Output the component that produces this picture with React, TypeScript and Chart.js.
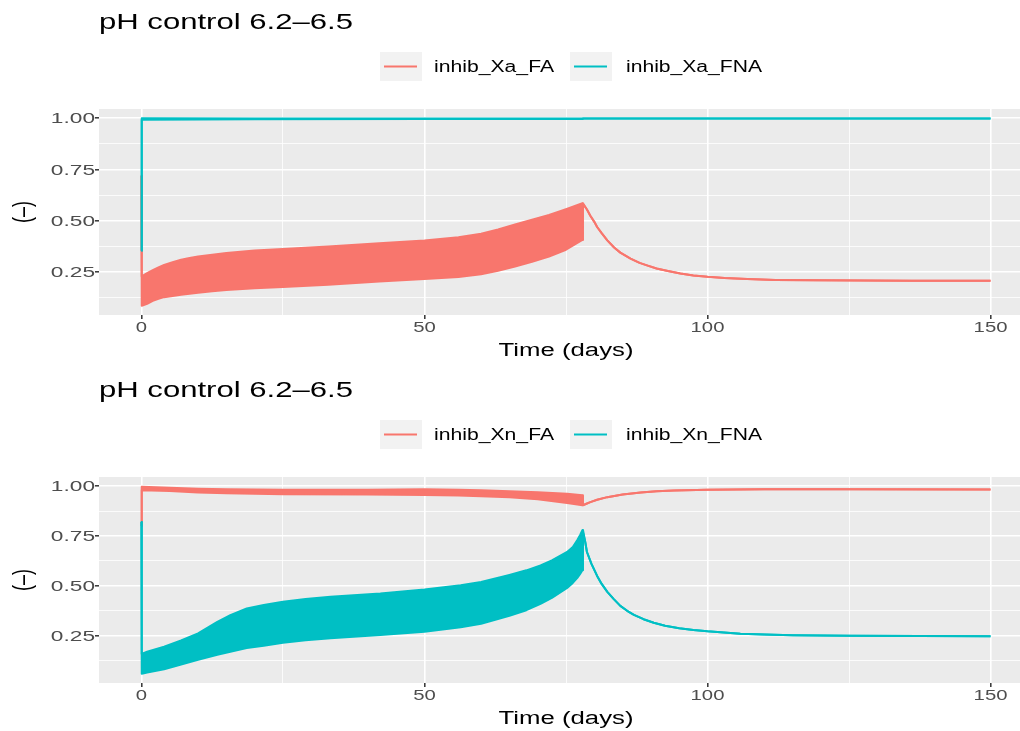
import React, { useEffect, useRef } from "react";
import { Chart, registerables } from "chart.js";
Chart.register(...registerables);

// ---------- text ----------
const TITLE = "pH control 6.2–6.5";
const X_TITLE = "Time (days)";
const Y_TITLE = "(–)";
const LEGEND_A = ["inhib_Xa_FA", "inhib_Xa_FNA"];
const LEGEND_N = ["inhib_Xn_FA", "inhib_Xn_FNA"];
const COLORS = ["#F8766D", "#00BFC4"];

// ---------- ticks ----------
const X_TICKS = [0, 25, 50, 75, 100, 125, 150];
const X_LABELED = [0, 50, 100, 150];
const Y_TICKS = [0.125, 0.25, 0.375, 0.5, 0.625, 0.75, 0.875, 1.0];
const Y_LABELED = [0.25, 0.5, 0.75, 1.0];
const Y_LABELS = ["0.25", "0.50", "0.75", "1.00"];

// ---------- panel 1: inhib_Xa_FA (upper / lower envelope of the oscillation) ----------
const XA_FA_T = [0, 0.05, 1, 2, 3, 4, 5.5, 7, 8.5, 10, 12.5, 15, 20, 25, 33, 42, 50, 56, 60, 63, 66, 69, 72, 75, 77.9, 78.0, 78.7, 79.3, 80, 80.5, 81.3, 82.3, 83.5, 84.6, 86.4, 88, 89.3, 91, 93, 95.2, 97.5, 100, 103, 107, 112, 119, 136, 150];
const XA_FA_HI = [0.72, 0.229, 0.245, 0.26, 0.273, 0.285, 0.298, 0.31, 0.319, 0.326, 0.335, 0.343, 0.355, 0.363, 0.375, 0.391, 0.404, 0.42, 0.437, 0.458, 0.482, 0.505, 0.529, 0.557, 0.586, 0.586, 0.555, 0.525, 0.495, 0.47, 0.44, 0.405, 0.37, 0.345, 0.316, 0.295, 0.283, 0.268, 0.255, 0.243, 0.234, 0.227, 0.221, 0.216, 0.212, 0.21, 0.208, 0.208];
const XA_FA_LO = [0.72, 0.086, 0.095, 0.11, 0.12, 0.128, 0.134, 0.14, 0.145, 0.15, 0.157, 0.163, 0.171, 0.177, 0.188, 0.204, 0.216, 0.226, 0.24, 0.257, 0.277, 0.3, 0.326, 0.359, 0.407, 0.586, 0.555, 0.525, 0.495, 0.47, 0.44, 0.405, 0.37, 0.345, 0.316, 0.295, 0.283, 0.268, 0.255, 0.243, 0.234, 0.227, 0.221, 0.216, 0.212, 0.21, 0.208, 0.208];

// ---------- panel 1: inhib_Xa_FNA ----------
const XA_FNA_T = [0, 0.05, 20, 50, 77.9, 78.0, 150];
const XA_FNA_HI = [0.354, 1.0, 0.999, 0.999, 0.999, 0.999, 0.999];
const XA_FNA_LO = [0.354, 0.993, 0.995, 0.996, 0.996, 0.999, 0.999];

// ---------- panel 2: inhib_Xn_FA ----------
const XN_FA_T = [0, 0.05, 5, 10, 15, 25, 40, 50, 56, 60, 65, 70, 75.2, 77.9, 78.0, 78.6, 79.3, 80.5, 82.3, 85, 88.2, 91, 94.1, 100, 110, 125, 150];
const XN_FA_HI = [0.8, 0.997, 0.992, 0.987, 0.985, 0.982, 0.982, 0.984, 0.982, 0.979, 0.975, 0.97, 0.962, 0.954, 0.904, 0.912, 0.92, 0.932, 0.945, 0.958, 0.968, 0.974, 0.978, 0.982, 0.984, 0.984, 0.983];
const XN_FA_LO = [0.8, 0.98, 0.976, 0.968, 0.964, 0.96, 0.958, 0.956, 0.953, 0.95, 0.945, 0.935, 0.915, 0.904, 0.904, 0.912, 0.92, 0.932, 0.945, 0.958, 0.968, 0.974, 0.978, 0.982, 0.984, 0.984, 0.983];

// ---------- panel 2: inhib_Xn_FNA ----------
const XN_FNA_T = [0, 0.05, 1, 4, 7, 10, 13.4, 15.7, 18.6, 21.6, 25, 29, 33.4, 42.2, 50, 56.4, 60, 65, 68, 70.5, 72.5, 75.2, 76.2, 77, 77.5, 77.9, 78.0, 78.4, 78.7, 79.5, 80.5, 81.3, 82.3, 83.4, 84.6, 85.8, 87, 88.7, 90.5, 92.5, 95, 97.5, 100, 105.8, 110, 115, 125, 150];
const XN_FNA_HI = [0.82, 0.159, 0.17, 0.195, 0.226, 0.262, 0.32, 0.353, 0.387, 0.404, 0.42, 0.434, 0.445, 0.462, 0.482, 0.503, 0.52, 0.555, 0.578, 0.603, 0.628, 0.67, 0.695, 0.73, 0.755, 0.78, 0.78, 0.72, 0.67, 0.61, 0.55, 0.51, 0.47, 0.435, 0.4, 0.375, 0.355, 0.333, 0.315, 0.3, 0.288, 0.279, 0.272, 0.26, 0.256, 0.253, 0.25, 0.248];
const XN_FNA_LO = [0.82, 0.059, 0.065, 0.082, 0.106, 0.129, 0.155, 0.17, 0.188, 0.2, 0.215, 0.227, 0.237, 0.254, 0.27, 0.292, 0.31, 0.35, 0.378, 0.41, 0.44, 0.49, 0.515, 0.54, 0.56, 0.578, 0.78, 0.72, 0.67, 0.61, 0.55, 0.51, 0.47, 0.435, 0.4, 0.375, 0.355, 0.333, 0.315, 0.3, 0.288, 0.279, 0.272, 0.26, 0.256, 0.253, 0.25, 0.248];

const FONT = '"Liberation Sans", Arial, Helvetica, sans-serif';

function band(T: number[], HI: number[], LO: number[], color: string, order: number) {
  const common = {
    borderColor: color,
    backgroundColor: color,
    borderWidth: 2,
    pointRadius: 0,
    tension: 0,
    order,
    borderJoinStyle: "round" as const,
  };
  return [
    { ...common, data: T.map((t, i) => ({ x: t, y: HI[i] })), fill: "+1" },
    { ...common, data: T.map((t, i) => ({ x: t, y: LO[i] })), fill: false },
  ];
}

function drawText(
  ctx: CanvasRenderingContext2D,
  s: string,
  x: number,
  y: number,
  size: number,
  color: string,
  align: CanvasTextAlign,
  sx: number,
  target?: number
) {
  ctx.save();
  ctx.font = `${size}px ${FONT}`;
  ctx.fillStyle = color;
  ctx.textBaseline = "alphabetic";
  ctx.textAlign = align;
  let k = sx;
  if (target) k = target / ctx.measureText(s).width;
  ctx.translate(x, y);
  ctx.scale(k, 1);
  ctx.fillText(s, 0, 0);
  ctx.restore();
}

function makeDecor(legend: string[]) {
  return {
    id: "decor",
    beforeDraw(chart: any) {
      const { ctx, chartArea: a } = chart;
      ctx.save();
      ctx.fillStyle = "#EBEBEB";
      ctx.fillRect(a.left, a.top, a.right - a.left, a.bottom - a.top);
      ctx.restore();
    },
    afterDraw(chart: any) {
      const ctx: CanvasRenderingContext2D = chart.ctx;
      const xs = chart.scales.x;
      const ys = chart.scales.y;
      drawText(ctx, TITLE, 99, 29, 22, "#000000", "left", 1, 254);
      const boxes = [
        { bx: 380, tx: 434, tw: 120 },
        { bx: 570, tx: 626, tw: 136 },
      ];
      boxes.forEach((b, i) => {
        ctx.save();
        ctx.fillStyle = "#F2F2F2";
        ctx.fillRect(b.bx, 52, 42, 29);
        ctx.strokeStyle = COLORS[i];
        ctx.lineWidth = 2;
        ctx.beginPath();
        ctx.moveTo(b.bx + 4, 66.5);
        ctx.lineTo(b.bx + 37, 66.5);
        ctx.stroke();
        ctx.restore();
        drawText(ctx, legend[i], b.tx, 72, 16, "#000000", "left", 1, b.tw);
      });
      Y_LABELED.forEach((v, i) => {
        const py = ys.getPixelForValue(v);
        drawText(ctx, Y_LABELS[i], 95, py + 5, 14, "#4D4D4D", "right", 1.62);
      });
      X_LABELED.forEach((v) => {
        const px = xs.getPixelForValue(v);
        drawText(ctx, String(v), px, 332, 14, "#4D4D4D", "center", 1.45);
      });
      drawText(ctx, X_TITLE, 566, 356, 18, "#000000", "center", 1.43);
      ctx.save();
      ctx.translate(24, (chart.chartArea.top + chart.chartArea.bottom) / 2);
      ctx.rotate(-Math.PI / 2);
      ctx.scale(1, 1.43);
      ctx.font = `18px ${FONT}`;
      ctx.fillStyle = "#000000";
      ctx.textAlign = "center";
      ctx.textBaseline = "middle";
      ctx.fillText(Y_TITLE, 0, 0);
      ctx.restore();
    },
  };
}

const isMajorX = (v: number) => v % 50 === 0;
const isMajorY = (v: number) => Math.abs(v / 0.25 - Math.round(v / 0.25)) < 1e-6;

function Panel(props: {
  top: number;
  height: number;
  datasets: any[];
  legend: string[];
  yMin: number;
  yMax: number;
}) {
  const ref = useRef<HTMLCanvasElement>(null);
  useEffect(() => {
    const { height } = props;
    const chart = new Chart(ref.current as HTMLCanvasElement, {
      type: "line",
      data: { datasets: props.datasets },
      options: {
        animation: false,
        responsive: false,
        maintainAspectRatio: false,
        devicePixelRatio: 1,
        layout: { padding: { top: 109, right: 7, left: 0, bottom: 0 } },
        plugins: {
          legend: { display: false },
          tooltip: { enabled: false },
          title: { display: false },
        },
        scales: {
          x: {
            type: "linear",
            min: -7.5,
            max: 157.5,
            afterBuildTicks: (s: any) => {
              s.ticks = X_TICKS.map((v) => ({ value: v }));
            },
            afterFit: (s: any) => {
              s.height = height - 315;
            },
            ticks: { display: false },
            border: { display: false },
            grid: {
              color: "#FFFFFF",
              lineWidth: (c: any) => (c.tick && isMajorX(c.tick.value) ? 1.6 : 0.8),
              drawTicks: true,
              tickLength: 4,
              tickWidth: 1.5,
              tickColor: (c: any) => (c.tick && isMajorX(c.tick.value) ? "#333333" : "rgba(0,0,0,0)"),
            },
          },
          y: {
            type: "linear",
            min: props.yMin,
            max: props.yMax,
            afterBuildTicks: (s: any) => {
              s.ticks = Y_TICKS.map((v) => ({ value: v }));
            },
            afterFit: (s: any) => {
              s.width = 99;
            },
            ticks: { display: false },
            border: { display: false },
            grid: {
              color: "#FFFFFF",
              lineWidth: (c: any) => (c.tick && isMajorY(c.tick.value) ? 1.6 : 0.8),
              drawTicks: true,
              tickLength: 4,
              tickWidth: 1.5,
              tickColor: (c: any) => (c.tick && isMajorY(c.tick.value) ? "#333333" : "rgba(0,0,0,0)"),
            },
          },
        },
      } as any,
      plugins: [makeDecor(props.legend)],
    });
    return () => chart.destroy();
  }, []);
  return (
    <canvas
      ref={ref}
      width={1040}
      height={props.height}
      style={{ position: "absolute", left: 0, top: props.top, width: 1040, height: props.height, display: "block" }}
    />
  );
}

export default function App() {
  const ds1 = [
    ...band(XA_FA_T, XA_FA_HI, XA_FA_LO, COLORS[0], 1),
    ...band(XA_FNA_T, XA_FNA_HI, XA_FNA_LO, COLORS[1], 0),
  ];
  const ds2 = [
    ...band(XN_FA_T, XN_FA_HI, XN_FA_LO, COLORS[0], 1),
    ...band(XN_FNA_T, XN_FNA_HI, XN_FNA_LO, COLORS[1], 0),
  ];
  return (
    <div
      style={{
        position: "fixed",
        left: 0,
        top: 0,
        width: 1020,
        height: 731,
        overflow: "hidden",
        background: "#FFFFFF",
      }}
    >
      <Panel top={0} height={368} datasets={ds1} legend={LEGEND_A} yMin={0.041} yMax={1.045} />
      <Panel top={368} height={363} datasets={ds2} legend={LEGEND_N} yMin={0.013} yMax={1.046} />
    </div>
  );
}
